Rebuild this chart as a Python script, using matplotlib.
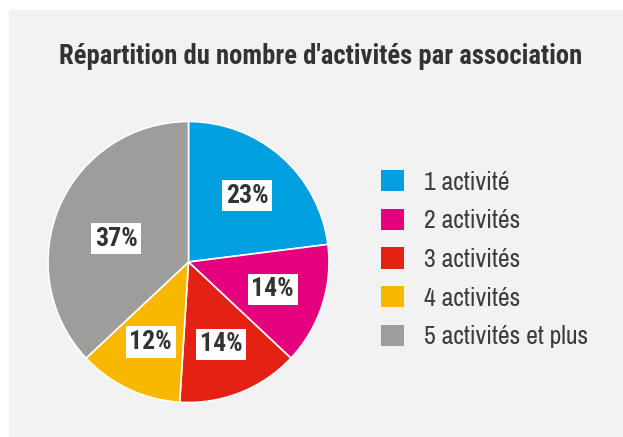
import numpy as np
import matplotlib.pyplot as plt
from matplotlib.patches import Rectangle
from matplotlib.font_manager import fontManager

categories = ['1 activité', '2 activités', '3 activités', '4 activités', '5 activités et plus']
shares = [23, 14, 14, 12, 37]
colors = ['#009fe0', '#e5007e', '#e32213', '#f9b800', '#9d9d9c']
title = "Répartition du nombre d'activités par association"


def pick(cands, bold):
    # première famille installée qui a la graisse voulue
    for name in cands:
        for f in fontManager.ttflist:
            if f.name == name and f.style == 'normal':
                w = int(f.weight) if str(f.weight).isdigit() else 400
                if (w >= 700) == bold:
                    return name
    return 'DejaVu Sans'


narrow_cands = ['Archivo Narrow', 'Roboto Condensed', 'Barlow Semi Condensed',
                'Fira Sans Condensed', 'IBM Plex Sans Condensed', 'Encode Sans Condensed']
font_reg = pick(narrow_cands, False)
font_bold = pick(narrow_cands, True)
plt.rcParams['font.family'] = [font_reg, 'DejaVu Sans']

W, H = 623, 437
fig = plt.figure(figsize=(W / 100, H / 100), dpi=100)
fig.patch.set_facecolor('white')

# panneau gris
fig.patches.append(Rectangle((9 / W, 0), 1, (H - 10) / H, transform=fig.transFigure,
                             facecolor='#f2f2f2', edgecolor='none', zorder=-5))

fig.text(321 / W, 1 - 57 / H, title, ha='center', va='center',
         fontsize=19.2, fontweight='bold', color='#333333', family=[font_bold, 'DejaVu Sans'])

# camembert
cx, cy, r = 188.5, 262, 140.5
ax = fig.add_axes([(cx - r) / W, (H - cy - r) / H, 2 * r / W, 2 * r / H])
ax.patch.set_visible(False)
wedges, texts, autotexts = ax.pie(
    shares, colors=colors, startangle=90, counterclock=False,
    autopct='%d%%', pctdistance=0.63,
    wedgeprops=dict(edgecolor='white', linewidth=1.2),
    textprops=dict(fontsize=18.5, fontweight='bold', color='#333333',
                   family=[font_bold, 'DejaVu Sans']))
for t in autotexts:
    t.set_bbox(dict(facecolor='white', edgecolor='none', pad=2.5))
# étiquette du grand secteur plus proche du centre
a = np.deg2rad(162)
autotexts[4].set_position((0.54 * np.cos(a), 0.54 * np.sin(a)))
ax.set_xlim(-1, 1)
ax.set_ylim(-1, 1)
ax.set_aspect('equal')
ax.axis('off')

leg = fig.legend(wedges, categories, loc='upper left',
                 bbox_to_anchor=(381 / W, 1 - 170 / H), frameon=False,
                 fontsize=18.5, handlelength=0.9, handleheight=0.9,
                 handletextpad=0.78, labelspacing=0.59, borderpad=0, borderaxespad=0)
for t in leg.get_texts():
    t.set_color('#3c3c3c')
for h in leg.legend_handles:
    h.set_edgecolor('none')

fig.savefig('out.png', dpi=100)
